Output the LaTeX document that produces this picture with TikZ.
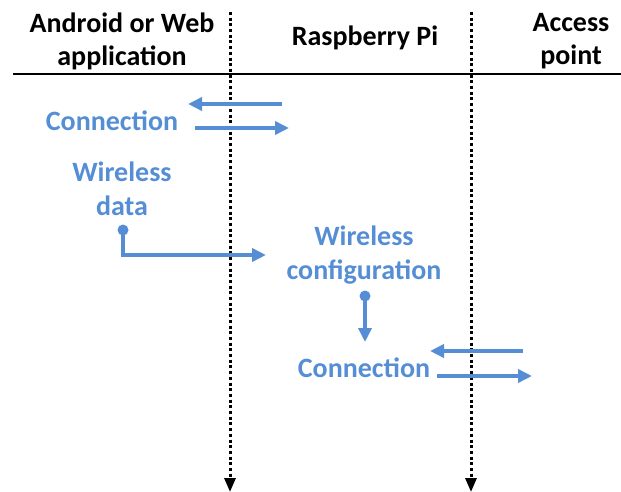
\documentclass[tikz,border=0pt]{standalone}
\usepackage{fontspec}
\setmainfont{Carlito}
\usetikzlibrary{arrows.meta}
\definecolor{myblue}{RGB}{85,142,213}
\begin{document}
\begin{tikzpicture}[x=1pt,y=-1pt,
 hdr/.style={font=\bfseries\fontsize{28}{33}\selectfont, align=center, text=black, inner sep=0pt},
 lbl/.style={font=\bfseries\fontsize{28}{34}\selectfont, align=center, text=myblue, inner sep=0pt},
 flow/.style={draw=myblue, line width=3.8pt, -{Triangle[length=14pt,width=13pt]}},
 life/.style={draw=black, line width=3pt, dash pattern=on 3pt off 2.7pt, -{Triangle[length=14pt,width=11pt]}},
 dotstart/.style={circle, fill=myblue, inner sep=0pt, minimum size=11pt}]
\useasboundingbox (0,0) rectangle (621,492);
% headers
\node[hdr] (hA) at (122,41) {Android or Web\\application};
\node[hdr] (hR) at (365,38) {Raspberry Pi};
\node[hdr] (hP) at (571,41) {Access\\point};
% rule and lifelines
\coordinate (ruleL) at (13,74);
\coordinate (ruleR) at (621,74);
\draw[line width=2.2pt] (ruleL) -- (ruleR);
\coordinate (l1top) at (230,12);
\coordinate (l1bot) at (230,492);
\coordinate (l2top) at (471,12);
\coordinate (l2bot) at (471,492);
\draw[life] (l1top) -- (l1bot);
\draw[life] (l2top) -- (l2bot);
% labels
\node[lbl] (conn1) at (112,121) {Connection};
\node[lbl] (wdata) at (122,189) {Wireless\\data};
\node[lbl] (wconf) at (364,255) {Wireless\\configuration};
\node[lbl] (conn2) at (364,368) {Connection};
% arrows
\coordinate (a1s) at (282,104);
\coordinate (a1e) at (188,104);
\coordinate (a2s) at (195,128);
\coordinate (a2e) at (289,128);
\draw[flow] (a1s) -- (a1e);
\draw[flow] (a2s) -- (a2e);
\node[dotstart] (b1) at (123,230) {};
\coordinate (b2) at (266,255);
\draw[flow] (b1.center) |- (b2);
\node[dotstart] (c1) at (365,296) {};
\coordinate (c2) at (365,342);
\draw[flow] (c1.center) -- (c2);
\coordinate (d1s) at (523,351);
\coordinate (d1e) at (430,351);
\coordinate (d2s) at (437,376);
\coordinate (d2e) at (532,376);
\draw[flow] (d1s) -- (d1e);
\draw[flow] (d2s) -- (d2e);
\end{tikzpicture}
\end{document}
